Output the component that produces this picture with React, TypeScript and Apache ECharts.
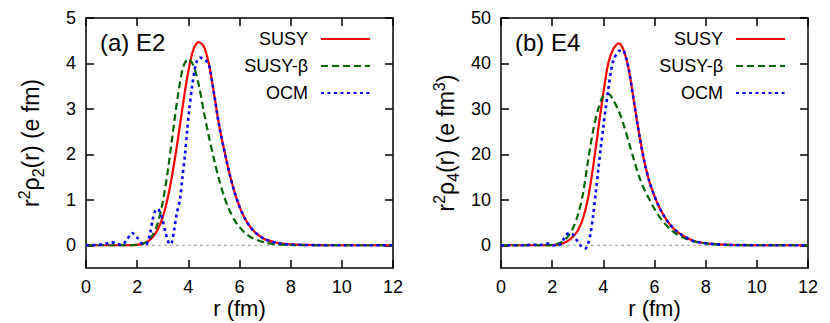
import React, { useEffect, useRef } from 'react';
import * as echarts from 'echarts';

// ---- tick labels ----
const xTicks = [0, 2, 4, 6, 8, 10, 12];
const yTicksE2 = [0, 1, 2, 3, 4, 5];
const yTicksE4 = [0, 10, 20, 30, 40, 50];
const seriesNames = ['SUSY', 'SUSY-β', 'OCM'];
const panelLabels = ['(a) E2', '(b) E4'];

// ---- (a) E2 ----
const rSusyE2 = [0, 1.5, 2.0, 2.2, 2.4, 2.6, 2.8, 3.0, 3.2, 3.4, 3.6, 3.8, 4.0, 4.2, 4.4, 4.6, 4.8, 5.0, 5.2, 5.4, 5.6, 5.8, 6.0, 6.2, 6.4, 6.6, 6.8, 7.0, 7.5, 8.0, 9.0, 10, 12];
const susyE2 = [0, 0, 0.01, 0.03, 0.08, 0.17, 0.34, 0.62, 1.05, 1.65, 2.36, 3.14, 3.83, 4.31, 4.47, 4.38, 4.0, 3.35, 2.65, 2.1, 1.6, 1.18, 0.85, 0.6, 0.42, 0.29, 0.2, 0.13, 0.05, 0.018, 0.003, 0, 0];

const rBetaE2 = [0, 1.5, 2.0, 2.2, 2.4, 2.6, 2.8, 3.0, 3.2, 3.4, 3.6, 3.8, 4.0, 4.2, 4.4, 4.6, 4.8, 5.0, 5.2, 5.4, 5.6, 5.8, 6.0, 6.2, 6.5, 7.0, 7.5, 8.0, 9.0, 10, 12];
const betaE2 = [0, 0, 0.008, 0.03, 0.09, 0.22, 0.48, 0.95, 1.65, 2.5, 3.32, 3.92, 4.1, 3.95, 3.55, 2.95, 2.4, 1.9, 1.45, 1.07, 0.78, 0.56, 0.4, 0.28, 0.16, 0.06, 0.02, 0.007, 0, 0, 0];

const rOcmE2 = [0, 0.5, 0.8, 1.0, 1.2, 1.4, 1.6, 1.8, 2.0, 2.2, 2.35, 2.5, 2.6, 2.7, 2.8, 2.9, 3.0, 3.1, 3.2, 3.28, 3.35, 3.45, 3.55, 3.67, 3.77, 3.87, 3.95, 4.04, 4.15, 4.3, 4.45, 4.6, 4.8, 5.0, 5.2, 5.4, 5.6, 5.8, 6.0, 6.2, 6.4, 6.6, 6.8, 7.0, 7.5, 8.0, 9.0, 10, 12];
const ocmE2 = [0, 0.01, 0.04, 0.07, 0.03, 0.01, 0.12, 0.27, 0.17, 0.03, 0.02, 0.25, 0.55, 0.75, 0.8, 0.72, 0.55, 0.3, 0.1, 0.02, 0.06, 0.35, 0.7, 1.0, 1.5, 2.0, 2.5, 3.0, 3.5, 4.0, 4.13, 4.1, 3.98, 3.35, 2.65, 2.1, 1.6, 1.18, 0.85, 0.6, 0.42, 0.29, 0.2, 0.13, 0.05, 0.018, 0.003, 0, 0];

// ---- (b) E4 ----
const rSusyE4 = [0, 1.5, 2.0, 2.2, 2.4, 2.6, 2.8, 3.0, 3.2, 3.4, 3.6, 3.8, 4.0, 4.2, 4.4, 4.6, 4.8, 5.0, 5.2, 5.4, 5.6, 5.8, 6.0, 6.2, 6.4, 6.6, 6.8, 7.0, 7.5, 8.0, 8.5, 9.0, 10, 12];
const susyE4 = [0, 0, 0.05, 0.15, 0.4, 0.9, 1.8, 3.2, 5.8, 10.3, 17.2, 25.5, 33.5, 40.2, 43.3, 44.4, 42.8, 38.5, 31.5, 24.5, 18.5, 14.0, 10.8, 8.2, 6.2, 4.6, 3.4, 2.5, 1.0, 0.45, 0.2, 0.08, 0.01, 0];

const rBetaE4 = [0, 1.5, 2.0, 2.2, 2.4, 2.6, 2.8, 3.0, 3.2, 3.4, 3.6, 3.8, 4.0, 4.2, 4.4, 4.6, 4.8, 5.0, 5.2, 5.4, 5.6, 5.8, 6.0, 6.2, 6.4, 6.6, 6.8, 7.0, 7.5, 8.0, 8.5, 9.0, 10, 12];
const betaE4 = [0, 0, 0.1, 0.3, 0.8, 1.8, 3.6, 6.6, 11.2, 18.5, 25.2, 30.0, 32.9, 33.3, 31.8, 29.6, 26.4, 22.6, 18.7, 15.1, 12.3, 10.1, 8.0, 6.2, 4.8, 3.6, 2.7, 2.0, 0.9, 0.4, 0.15, 0.05, 0, 0];

const rOcmE4 = [0, 1.0, 1.2, 1.5, 1.8, 2.0, 2.2, 2.35, 2.5, 2.65, 2.8, 2.95, 3.1, 3.2, 3.3, 3.4, 3.5, 3.6, 3.7, 3.8, 3.9, 4.0, 4.1, 4.2, 4.3, 4.4, 4.6, 4.75, 4.9, 5.0, 5.2, 5.4, 5.6, 5.8, 6.0, 6.2, 6.4, 6.6, 6.8, 7.0, 7.5, 8.0, 8.5, 9.0, 10, 12];
const ocmE4 = [0, 0, 0.2, 0.05, 0.4, 0.1, -0.2, 0.5, 1.8, 2.7, 2.4, 1.2, 0.0, -0.5, -0.7, 0.3, 2.5, 6.5, 11.5, 16.5, 21.5, 26.0, 30.5, 34.5, 38.3, 40.8, 42.7, 43.0, 41.0, 38.5, 31.5, 24.5, 18.5, 14.0, 10.8, 8.2, 6.2, 4.6, 3.4, 2.5, 1.0, 0.45, 0.2, 0.08, 0.01, 0];

const zeroLine = [0, 12];

const pair = (xs: number[], ys: number[]) => xs.map((x, i) => [x, ys[i]]);

export default function App() {
  const ref = useRef<HTMLDivElement>(null);
  useEffect(() => {
    const chart = echarts.init(ref.current!, null, { renderer: 'svg' });
    const font = 'Liberation Sans';
    const black = '#000';
    const grids = [
      { left: 86, top: 18, width: 307, height: 250, outerBoundsMode: 'none', containLabel: false },
      { left: 501, top: 18, width: 307, height: 250, outerBoundsMode: 'none', containLabel: false },
    ];
    const axisLine = { show: true, onZero: false, lineStyle: { color: black, width: 1.5 } };
    const tick = (vals: number[]) => ({
      show: true,
      inside: true,
      length: 8,
      customValues: vals,
      lineStyle: { color: black, width: 1.5 },
    });
    const label = (vals: number[]) => ({
      show: true,
      margin: 10,
      fontSize: 18,
      lineHeight: 18,
      color: black,
      fontFamily: font,
      customValues: vals,
    });
    const yRange = [
      { min: -0.5, max: 5, ticks: yTicksE2 },
      { min: -5, max: 50, ticks: yTicksE4 },
    ];
    const yNames = [
      '{m|r}{sp|2}{m|ρ}{sb|2}{m|(r) (e fm)}',
      '{m|r}{sp|2}{m|ρ}{sb|4}{m|(r) (e fm}{sp|3}{m|)}',
    ];
    const rich = {
      m: { fontSize: 23, fontFamily: font, color: black, lineHeight: 30 },
      sp: { fontSize: 16, fontFamily: font, color: black, lineHeight: 16, verticalAlign: 'top' },
      sb: { fontSize: 16, fontFamily: font, color: black, lineHeight: 16, verticalAlign: 'bottom' },
    };

    const xAxis: any[] = [];
    const yAxis: any[] = [];
    [0, 1].forEach((g) => {
      xAxis.push({
        type: 'value', gridIndex: g, min: 0, max: 12, interval: 2, position: 'bottom',
        axisLine, axisTick: tick(xTicks), axisLabel: label(xTicks), splitLine: { show: false },
        name: 'r (fm)', nameLocation: 'middle', nameGap: 29, nameMoveOverlap: false,
        nameTextStyle: { fontSize: 22, fontFamily: font, color: black, lineHeight: 22 },
      });
      xAxis.push({
        type: 'value', gridIndex: g, min: 0, max: 12, interval: 2, position: 'top',
        axisLine, axisTick: tick(xTicks), axisLabel: { show: false }, splitLine: { show: false },
      });
      yAxis.push({
        type: 'value', gridIndex: g, min: yRange[g].min, max: yRange[g].max, position: 'left',
        axisLine, axisTick: tick(yRange[g].ticks), axisLabel: label(yRange[g].ticks), splitLine: { show: false },
        name: yNames[g], nameLocation: 'middle', nameGap: 40, nameRotate: 90, nameMoveOverlap: false,
        nameTextStyle: { rich },
      });
      yAxis.push({
        type: 'value', gridIndex: g, min: yRange[g].min, max: yRange[g].max, position: 'right',
        axisLine, axisTick: tick(yRange[g].ticks), axisLabel: { show: false }, splitLine: { show: false },
      });
    });

    const styles = [
      { color: '#ff0000', width: 2.2, type: 'solid' as any },
      { color: '#006400', width: 2.2, type: [7, 4] as any },
      { color: '#0000ff', width: 2.6, type: [3, 3.5] as any },
    ];
    const panelData = [
      [pair(rSusyE2, susyE2), pair(rBetaE2, betaE2), pair(rOcmE2, ocmE2)],
      [pair(rSusyE4, susyE4), pair(rBetaE4, betaE4), pair(rOcmE4, ocmE4)],
    ];

    const series: any[] = [];
    [0, 1].forEach((g) => {
      series.push({
        name: 'zero' + g, type: 'line', xAxisIndex: g * 2, yAxisIndex: g * 2,
        data: zeroLine.map((x) => [x, 0]), symbol: 'none', silent: true, z: 1,
        lineStyle: { color: '#999', width: 1, type: [3, 3] },
      });
      seriesNames.forEach((n, k) => {
        series.push({
          name: n, type: 'line', xAxisIndex: g * 2, yAxisIndex: g * 2,
          data: panelData[g][k], symbol: 'none', showSymbol: false,
          smooth: 0.3, z: 2 + k,
          lineStyle: styles[k], itemStyle: { color: styles[k].color },
        });
      });
    });

    const legendBase = {
      data: seriesNames, orient: 'vertical', align: 'right', top: 30,
      itemWidth: 49, itemHeight: 14, itemGap: 9, padding: 0,
      itemStyle: { opacity: 0 },
      textStyle: { fontSize: 18, color: black, fontFamily: font, padding: [0, 8, 0, 0] },
      selectedMode: false,
    };

    chart.setOption({
      animation: false,
      backgroundColor: '#fff',
      grid: grids,
      xAxis,
      yAxis,
      series,
      legend: [
        { ...legendBase, right: 459 },
        { ...legendBase, right: 44 },
      ],
      graphic: panelLabels.map((t, g) => ({
        type: 'text', x: grids[g].left + 14, y: 42,
        style: { text: t, fontSize: 24, fontFamily: font, fill: black, verticalAlign: 'middle', align: 'left' },
      })),
    });
    return () => chart.dispose();
  }, []);
  return <div ref={ref} style={{ position: 'fixed', left: 0, top: 0, width: 830, height: 323, background: '#fff' }} />;
}
